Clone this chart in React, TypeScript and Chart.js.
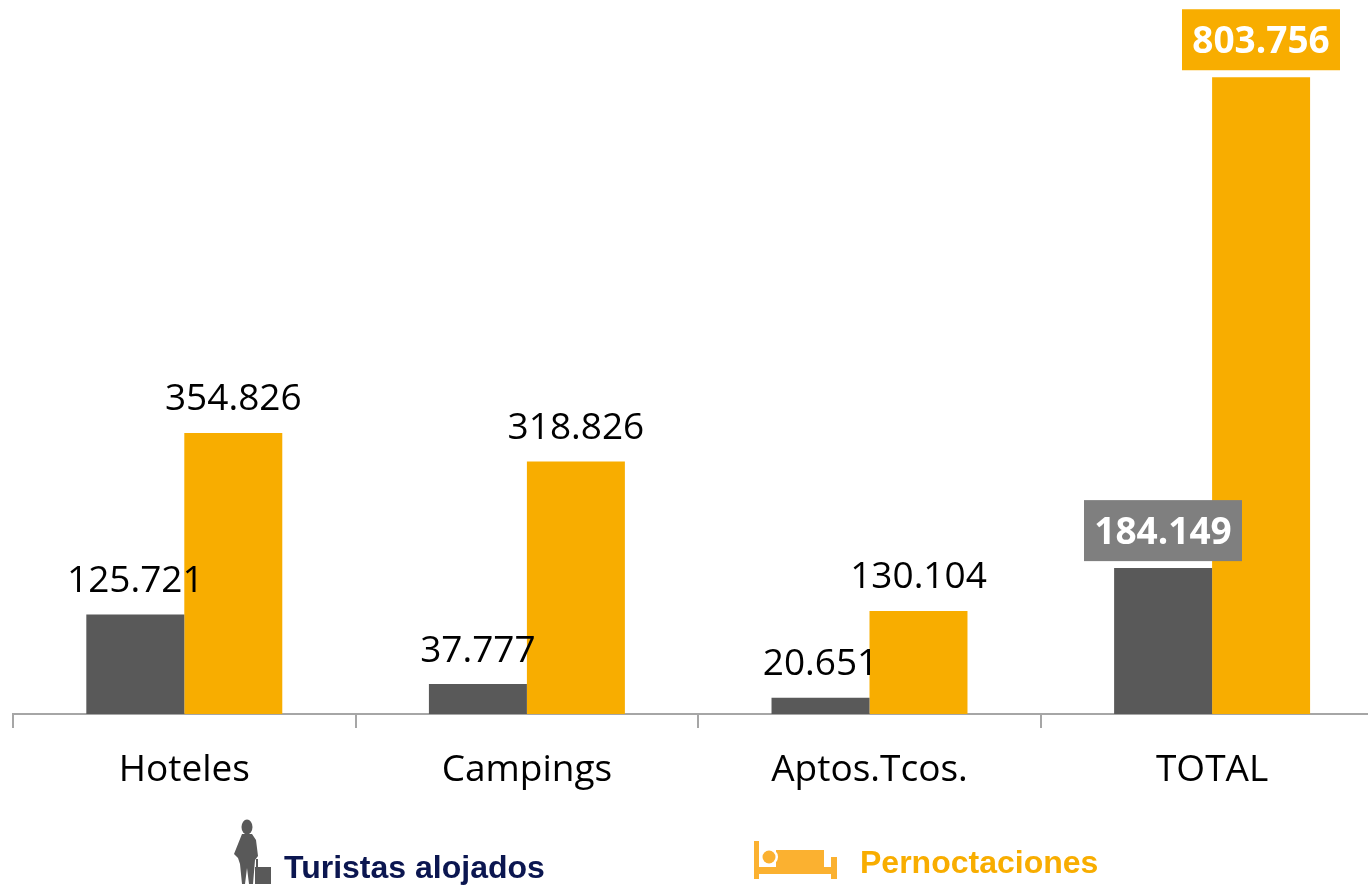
import React, { useEffect, useRef } from "react";
import { Chart, registerables } from "chart.js";

Chart.register(...registerables);

const categories = ["Hoteles", "Campings", "Aptos.Tcos.", "TOTAL"];
const turistas = [125721, 37777, 20651, 184149];
const pernoctaciones = [354826, 318826, 130104, 803756];
const seriesNames = ["Turistas alojados", "Pernoctaciones"];

const GREY = "#595959";
const AMBER = "#F8AD00";
const FONT = '"Open Sans"';

const fmt = (v: number) => String(Math.floor(v / 1000)) + "." + String(v % 1000).padStart(3, "0");

const labelPlugin = {
  id: "valueLabels",
  afterDatasetsDraw(chart: any) {
    const ctx = chart.ctx;
    ctx.save();
    ctx.textAlign = "center";
    ctx.textBaseline = "middle";
    chart.data.datasets.forEach((ds: any, di: number) => {
      const meta = chart.getDatasetMeta(di);
      meta.data.forEach((el: any, i: number) => {
        const isTotal = i === categories.length - 1;
        const text = fmt(ds.data[i]);
        if (isTotal) {
          const w = 158;
          const h = 61;
          const cx = di === 0 ? 1163 : 1261;
          const bottom = el.y - 7;
          ctx.fillStyle = di === 0 ? "#7F7F7F" : AMBER;
          ctx.fillRect(cx - w / 2, bottom - h, w, h);
          ctx.fillStyle = "#FFFFFF";
          ctx.font = `bold 37px ${FONT}`;
          ctx.fillText(text, cx, bottom - h / 2 + 3);
        } else {
          ctx.fillStyle = "#000000";
          ctx.font = `37px ${FONT}`;
          ctx.fillText(text, el.x, el.y - 33);
        }
      });
    });
    ctx.restore();
  },
};

const legendPlugin = {
  id: "iconLegend",
  afterDraw(chart: any) {
    const ctx = chart.ctx;
    ctx.save();
    ctx.textBaseline = "middle";
    ctx.textAlign = "left";
    ctx.font = 'bold 32px "Liberation Sans"';
    ctx.fillStyle = "#0B1650";
    ctx.fillText(seriesNames[0], 284, 869);
    ctx.fillStyle = "#F8AD00";
    ctx.fillText(seriesNames[1], 860, 864);

    // traveller silhouette
    ctx.fillStyle = "#595959";
    ctx.beginPath();
    ctx.ellipse(247, 827, 5.5, 7.5, 0, 0, Math.PI * 2);
    ctx.fill();
    ctx.beginPath();
    ctx.moveTo(242, 834);
    ctx.lineTo(252, 834);
    ctx.lineTo(256, 840);
    ctx.lineTo(258, 856);
    ctx.lineTo(255, 860);
    ctx.lineTo(253, 884);
    ctx.lineTo(249, 884);
    ctx.lineTo(247, 868);
    ctx.lineTo(245, 884);
    ctx.lineTo(242, 884);
    ctx.lineTo(240, 864);
    ctx.lineTo(238, 858);
    ctx.lineTo(234, 854);
    ctx.closePath();
    ctx.fill();
    // suitcase
    ctx.fillRect(255, 867, 16, 17);
    ctx.fillRect(256, 859, 2, 9);

    // bed
    ctx.fillStyle = "#FBB130";
    ctx.fillRect(754, 841, 5, 38);
    ctx.fillRect(754, 867, 83, 7);
    ctx.fillRect(831, 857, 6, 22);
    ctx.fillRect(776, 850, 48, 18);
    ctx.fillStyle = "#FFFFFF";
    ctx.beginPath();
    ctx.arc(769, 857, 9, 0, Math.PI * 2);
    ctx.fill();
    ctx.fillStyle = "#FBB130";
    ctx.beginPath();
    ctx.arc(769, 857, 6.5, 0, Math.PI * 2);
    ctx.fill();
    ctx.restore();
  },
};

export default function App() {
  const ref = useRef<HTMLCanvasElement>(null);
  useEffect(() => {
    if (!ref.current) return;
    const chart = new Chart(ref.current, {
      type: "bar",
      data: {
        labels: categories,
        datasets: [
          { label: seriesNames[0], data: turistas, backgroundColor: GREY, barPercentage: 1, categoryPercentage: 0.572 },
          { label: seriesNames[1], data: pernoctaciones, backgroundColor: AMBER, barPercentage: 1, categoryPercentage: 0.572 },
        ],
      },
      options: {
        responsive: false,
        animation: false,
        layout: { padding: { left: 13, right: 16.6, top: 1, bottom: 0 } },
        plugins: { legend: { display: false }, tooltip: { enabled: false } },
        scales: {
          y: { display: false, min: 0, max: 900000 },
          x: {
            afterFit(scale: any) {
              scale.height = 171;
            },
            border: { color: "#A6A6A6", width: 2 },
            grid: { drawOnChartArea: false, drawTicks: true, tickLength: 14, color: "#A6A6A6", lineWidth: 2, offset: true },
            ticks: { color: "#000000", font: { family: FONT, size: 37 }, padding: 20, maxRotation: 0 },
          },
        },
      },
      plugins: [labelPlugin, legendPlugin],
    } as any);
    return () => chart.destroy();
  }, []);
  return (
    <div style={{ position: "fixed", left: 0, top: 0, width: 1368, height: 885, overflow: "hidden", background: "#fff" }}>
      <canvas ref={ref} width={1400} height={885} style={{ display: "block" }} />
    </div>
  );
}
